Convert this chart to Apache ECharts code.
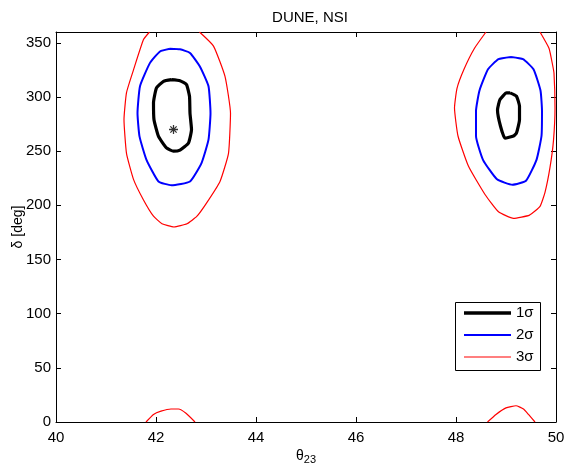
<!DOCTYPE html>
<html>
<head>
<meta charset="utf-8">
<script src="https://cdn.jsdelivr.net/npm/echarts@6/dist/echarts.min.js"></script>
<style>html,body{margin:0;padding:0;background:#fff}#c{width:565px;height:466px}</style>
</head>
<body>
<div id="c"></div>
<script>
var xTicks = [40, 42, 44, 46, 48, 50];
var yTicks = [0, 50, 100, 150, 200, 250, 300, 350];
var bestFit = [[42.35, 270]];

var c1Left = [[42.31,316],[42.48,315],[42.61,311.5],[42.67,300.7],[42.68,285],[42.71,270],[42.65,257.6],[42.48,251],[42.35,250],[42.21,253],[42.05,263.7],[41.96,279],[41.95,294.6],[42.01,308.4],[42.15,314.5],[42.31,316]];
var c2Left = [[42.28,344.5],[42.08,342],[41.88,331.5],[41.68,310],[41.63,285],[41.67,263.7],[41.81,242],[42.05,222],[42.31,218.5],[42.68,222],[42.91,239],[43.05,260.6],[43.09,285],[43.05,310],[42.88,328],[42.68,340.7],[42.48,344],[42.28,344.5]];
var c3Left = [[41.87,360],[41.75,353],[41.55,325],[41.41,304],[41.36,279],[41.41,248],[41.55,224],[41.75,205],[41.95,190],[42.12,183],[42.36,180],[42.62,183],[42.82,190],[43.01,202],[43.28,222],[43.45,248],[43.49,285],[43.38,319],[43.15,347],[42.87,360]];
var c3LeftWrap = [[41.80,0],[41.95,7],[42.1,10],[42.3,12],[42.45,12],[42.6,8],[42.78,0]];

var c1Right = [[49.08,303.8],[49.21,300.7],[49.27,291.4],[49.27,279],[49.21,266.8],[49.15,264],[48.98,262],[48.89,273],[48.83,288],[48.88,297.6],[49.01,303.8],[49.08,303.8]];
var c2Right = [[49.10,337],[48.85,335],[48.64,325.6],[48.47,306],[48.40,287],[48.40,264],[48.54,242],[48.82,224],[49.13,219],[49.40,222.7],[49.61,242],[49.71,264],[49.72,287],[49.69,306],[49.55,325.6],[49.34,335],[49.10,337]];
var c3Right = [[48.60,360],[48.37,345],[48.16,325.6],[48.02,308],[47.97,290],[48.04,264],[48.25,236],[48.58,210],[48.85,194],[49.15,188],[49.47,191],[49.68,199],[49.78,212],[49.88,235],[49.95,260],[49.98,290],[49.96,322],[49.93,330],[49.86,345],[49.68,360]];
var c3RightWrap = [[48.63,0],[48.8,7],[49.0,13],[49.2,15],[49.35,12],[49.45,7],[49.58,0]];

var legendNames = ['1σ', '2σ', '3σ'];
var legendColors = ['#000000', '#0000ff', '#ff0000'];
var legendWidths = [3.4, 2, 1.2];

var FONT = '"Liberation Sans", Arial, Helvetica, sans-serif';

function line(name, data, color, width) {
  return {
    name: name, type: 'line', data: data, symbol: 'none', smooth: 0.15,
    lineStyle: {color: color, width: width}, itemStyle: {color: color},
    xAxisIndex: 0, yAxisIndex: 0, z: 3, silent: true, animation: false
  };
}

// legend box drawn as graphic (layout only)
var legendGraphic = [{
  type: 'rect', left: 455, top: 302, z: 100,
  shape: {width: 85, height: 68},
  style: {fill: '#fff', stroke: '#000', lineWidth: 1}
}];
legendNames.forEach(function (n, i) {
  var y = 313 + i * 22;
  legendGraphic.push({
    type: 'line', z: 101, x: 0, y: 0,
    shape: {x1: 464, y1: y, x2: 511, y2: y},
    style: {stroke: legendColors[i], lineWidth: legendWidths[i]}
  });
  legendGraphic.push({
    type: 'text', z: 101, x: 516, y: y,
    style: {text: n, fill: '#000', font: '15px ' + FONT, verticalAlign: 'middle', align: 'left'}
  });
});

var star = 'path://M4.3,0 L5.7,0 L5.7,10 L4.3,10 Z M0,4.3 L10,4.3 L10,5.7 L0,5.7 Z M1.0,2.0 L2.0,1.0 L9.0,8.0 L8.0,9.0 Z M8.0,1.0 L9.0,2.0 L2.0,9.0 L1.0,8.0 Z';

var chart = echarts.init(document.getElementById('c'), null, {renderer: 'canvas'});
var axisCommon = {
  type: 'value',
  axisLine: {show: true, onZero: false, lineStyle: {color: '#000', width: 1}},
  axisTick: {show: true, inside: true, length: 5, lineStyle: {color: '#000'}},
  splitLine: {show: false}
};
chart.setOption({
  animation: false,
  backgroundColor: '#fff',
  textStyle: {fontFamily: FONT},
  title: {
    text: 'DUNE, NSI', left: 305, top: 5, textAlign: 'center',
    textStyle: {fontFamily: FONT, fontSize: 15, fontWeight: 'normal', color: '#000'}
  },
  grid: {left: 56, right: 9, top: 32, bottom: 44, containLabel: false, outerBoundsMode: 'none'},
  graphic: legendGraphic,
  xAxis: [
    Object.assign({}, axisCommon, {
      min: 40, max: 50, interval: 2, position: 'bottom',
      name: '{t|θ}{s|23}', nameLocation: 'middle', nameGap: 25, nameMoveOverlap: false,
      nameTextStyle: {rich: {
        t: {fontFamily: FONT, fontSize: 14, color: '#000'},
        s: {fontFamily: FONT, fontSize: 11, color: '#000', verticalAlign: 'bottom', padding: [7, 0, 0, 0]}
      }},
      axisLabel: {fontFamily: FONT, fontSize: 15, color: '#000', margin: 8,
        formatter: function (v) { return xTicks.indexOf(v) >= 0 ? String(v) : ''; }}
    }),
    Object.assign({}, axisCommon, {
      min: 40, max: 50, interval: 2, position: 'top', axisLabel: {show: false}
    })
  ],
  yAxis: [
    Object.assign({}, axisCommon, {
      min: 0, max: 360, interval: 50, position: 'left',
      name: 'δ [deg]', nameLocation: 'middle', nameGap: 31, nameMoveOverlap: false,
      nameTextStyle: {fontFamily: FONT, fontSize: 14, color: '#000'},
      axisLabel: {fontFamily: FONT, fontSize: 15, color: '#000', margin: 5,
        showMaxLabel: false,
        formatter: function (v) { return yTicks.indexOf(v) >= 0 ? String(v) : ''; }}
    }),
    Object.assign({}, axisCommon, {
      min: 0, max: 360, interval: 50, position: 'right', axisLabel: {show: false}
    })
  ],
  series: [
    line(legendNames[2], c3Left, legendColors[2], legendWidths[2]),
    line(legendNames[2], c3LeftWrap, legendColors[2], legendWidths[2]),
    line(legendNames[2], c3Right, legendColors[2], legendWidths[2]),
    line(legendNames[2], c3RightWrap, legendColors[2], legendWidths[2]),
    line(legendNames[1], c2Left, legendColors[1], legendWidths[1]),
    line(legendNames[1], c2Right, legendColors[1], legendWidths[1]),
    line(legendNames[0], c1Left, legendColors[0], 3.2),
    line(legendNames[0], c1Right, legendColors[0], 3.2),
    {
      type: 'scatter', data: bestFit, symbol: star, symbolSize: 9,
      itemStyle: {color: '#000'}, z: 4, silent: true
    }
  ]
});
</script>
</body>
</html>
